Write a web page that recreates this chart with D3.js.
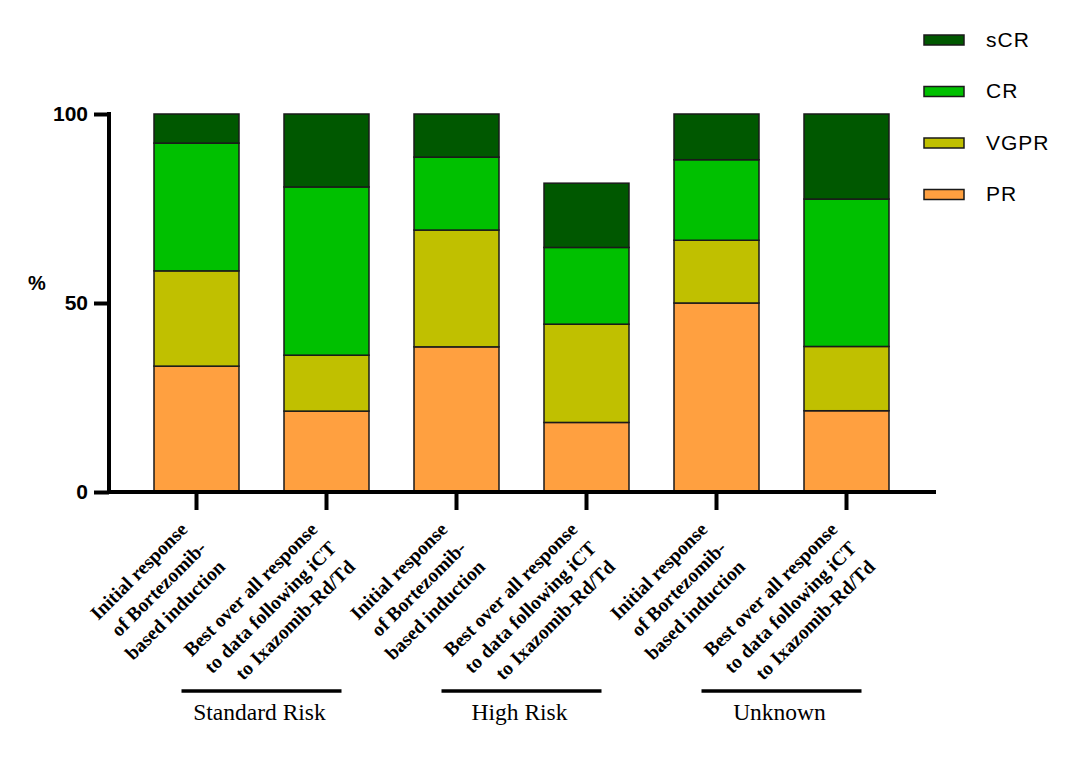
<!DOCTYPE html>
<html><head><meta charset="utf-8">
<script src="https://cdn.jsdelivr.net/npm/d3@7"></script>
<style>html,body{margin:0;padding:0;background:#fff;}svg{display:block;}</style>
</head><body>
<svg id="chart" width="1080" height="758"></svg>
<script>
const categories = ["SR-init","SR-best","HR-init","HR-best","UN-init","UN-best"];
const categoryLabels = [
  ["Initial response","of Bortezomib-","based induction"],
  ["Best over all response","to data following iCT","to Ixazomib-Rd/Td"],
  ["Initial response","of Bortezomib-","based induction"],
  ["Best over all response","to data following iCT","to Ixazomib-Rd/Td"],
  ["Initial response","of Bortezomib-","based induction"],
  ["Best over all response","to data following iCT","to Ixazomib-Rd/Td"]
];
const groups = ["Standard Risk","High Risk","Unknown"];
const seriesNames = ["PR","VGPR","CR","sCR"];
const PR   = [33.3, 21.4, 38.4, 18.4, 50.0, 21.5];
const VGPR = [25.2, 14.8, 30.9, 26.0, 16.6, 17.0];
const CR   = [33.8, 44.5, 19.3, 20.3, 21.3, 39.0];
const sCR  = [7.7, 19.3, 11.4, 17.0, 12.1, 22.5];
const yTicks = [0, 50, 100];
const colors = {PR:"#ffa040", VGPR:"#c0c000", CR:"#00c000", sCR:"#005800"};

const svg = d3.select("#chart");
const x = d3.scaleBand().domain(categories).range([131.5, 911.5]).paddingInner(0.3462).paddingOuter(0.1731);
const y = d3.scaleLinear().domain([0, 100]).range([492, 114]);

const rows = categories.map((c, i) => ({cat: c, PR: PR[i], VGPR: VGPR[i], CR: CR[i], sCR: sCR[i]}));
const stacked = d3.stack().keys(seriesNames)(rows);

svg.append("g").selectAll("g").data(stacked).join("g")
  .attr("fill", d => colors[d.key])
  .selectAll("rect").data(d => d).join("rect")
  .attr("x", d => x(d.data.cat))
  .attr("width", x.bandwidth())
  .attr("y", d => y(d[1]))
  .attr("height", d => y(d[0]) - y(d[1]))
  .attr("stroke", "#1a1a1a").attr("stroke-width", 1.5);

// Y axis
const yAxis = svg.append("g").attr("transform", "translate(109,0)")
  .call(d3.axisLeft(y).tickValues(yTicks).tickSize(15).tickPadding(6).tickSizeOuter(0));
yAxis.select(".domain").attr("stroke", "#000").attr("stroke-width", 4)
  .attr("d", `M0,${y(100)-2}V${y(0)+2}`);
yAxis.selectAll(".tick line").attr("stroke", "#000").attr("stroke-width", 4);
yAxis.selectAll(".tick text").attr("font-family", "Liberation Sans, Arial, sans-serif")
  .attr("font-size", 21).attr("font-weight", "bold").attr("fill", "#000");

svg.append("text").attr("x", 37).attr("y", 285).attr("text-anchor", "middle")
  .attr("dominant-baseline", "middle")
  .attr("font-family", "Liberation Sans, Arial, sans-serif").attr("font-size", 20)
  .attr("font-weight", "bold").text("%");

// X axis
const xAxis = svg.append("g").attr("transform", "translate(0,492)")
  .call(d3.axisBottom(x).tickSize(18).tickSizeOuter(0).tickFormat(""));
xAxis.select(".domain").attr("stroke", "#000").attr("stroke-width", 4)
  .attr("d", "M107,0H936");
xAxis.selectAll(".tick line").attr("stroke", "#000").attr("stroke-width", 4);

// Rotated category labels
categories.forEach((c, i) => {
  const cx = x(c) + x.bandwidth() / 2;
  const g = svg.append("g").attr("transform", `translate(${cx},510) rotate(-45)`);
  categoryLabels[i].forEach((line, j) => {
    g.append("text").attr("x", -20).attr("y", 9 + j * 26.5)
      .attr("text-anchor", "end")
      .attr("font-family", "Liberation Serif, Times New Roman, serif")
      .attr("font-size", 19.5).attr("font-weight", "bold").attr("fill", "#000")
      .text(line);
  });
});

// Group labels
groups.forEach((gname, k) => {
  const a = x(categories[2 * k]) + x.bandwidth() / 2;
  const b = x(categories[2 * k + 1]) + x.bandwidth() / 2;
  const mid = (a + b) / 2;
  svg.append("line").attr("x1", mid - 80).attr("x2", mid + 80)
    .attr("y1", 691).attr("y2", 691).attr("stroke", "#000").attr("stroke-width", 3.5);
  svg.append("text").attr("x", mid - 2).attr("y", 720).attr("text-anchor", "middle")
    .attr("font-family", "Liberation Serif, Times New Roman, serif")
    .attr("font-size", 23.5).attr("fill", "#000").text(gname);
});

// Legend
const legendOrder = ["sCR","CR","VGPR","PR"];
const lg = svg.append("g");
legendOrder.forEach((k, i) => {
  const cy = 40 + i * 51.5;
  lg.append("rect").attr("x", 924).attr("y", cy - 5).attr("width", 40).attr("height", 10)
    .attr("fill", colors[k]).attr("stroke", "#1a1a1a").attr("stroke-width", 1.5);
  lg.append("text").attr("x", 986).attr("y", cy + 1).attr("dominant-baseline", "middle")
    .attr("font-family", "Liberation Sans, Arial, sans-serif").attr("font-size", 21)
    .attr("letter-spacing", 1).attr("fill", "#000").text(k);
});
</script>
</body></html>
